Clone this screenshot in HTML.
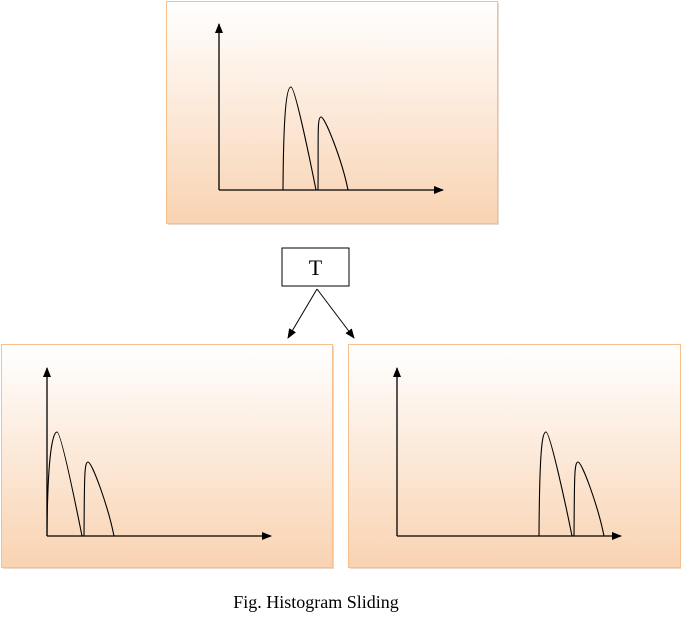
<!DOCTYPE html>
<html><head><meta charset="utf-8"><style>
html,body{margin:0;padding:0;background:#fff;}
body{width:681px;height:630px;position:relative;overflow:hidden;font-family:"Liberation Serif",serif;}
</style></head><body>
<svg id="c" width="681" height="630" xmlns="http://www.w3.org/2000/svg">
<defs>
<linearGradient id="g" x1="0" y1="0" x2="0" y2="1">
<stop offset="0" stop-color="#ffffff"/><stop offset="1" stop-color="#f9d3b2"/>
</linearGradient>
<marker id="ah" markerWidth="10" markerHeight="8" refX="9" refY="4" orient="auto" markerUnits="userSpaceOnUse">
<path d="M0,0 L10,4 L0,8 Z" fill="#000"/></marker>
</defs>
<g id="panels"></g>
<rect x="282" y="248" width="67" height="38" fill="#fff" stroke="#000" stroke-width="1"/>
<text x="315.5" y="275" font-size="22" text-anchor="middle" font-family="Liberation Serif, serif">T</text>
<line x1="317" y1="289" x2="288" y2="338" stroke="#000" stroke-width="1" marker-end="url(#ah)"/>
<line x1="317" y1="289" x2="354" y2="338" stroke="#000" stroke-width="1" marker-end="url(#ah)"/>
<text x="316" y="608" font-size="18" text-anchor="middle" font-family="Liberation Serif, serif">Fig. Histogram Sliding</text>
</svg>
<script>
const panelNames = ['original-histogram','slid-left-histogram','slid-right-histogram'];
const lobeStarts = [[283,318],[47,84],[539,574]];
const lobePeaksX = [[291,321],[57,88],[546,578]];
const lobePeaksY = [[87,117],[432,462],[432,462]];
const lobeEnds = [[316,348],[82,114],[572,604]];
const boxes=[[166,1,331,222],[1,344,331,223],[348,344,332,223]];
const axes=[[219,190,24,443],[47,536,368,271],[397,536,368,621]];
const NS='http://www.w3.org/2000/svg';
const g=document.getElementById('panels');
function mk(t,a){const e=document.createElementNS(NS,t);for(const k in a)e.setAttribute(k,a[k]);return e;}
for(let i=0;i<3;i++){
  const [bx,by,bw,bh]=boxes[i];
  const grp=mk('g',{});
  
  
  g.appendChild(grp);
  grp.appendChild(mk('rect',{x:bx+2,y:by+2,width:bw,height:bh,fill:'#d8b498',opacity:0.5}));
  const r=mk('rect',{x:bx+0.5,y:by+0.5,width:bw,height:bh,fill:'url(#g)',stroke:'#f7bf8c','stroke-width':1});
  
  
  grp.appendChild(r);
  const [ax,ay,top,right]=axes[i];
  const ya=mk('line',{x1:ax,y1:ay,x2:ax,y2:top,stroke:'#000','stroke-width':1.3,'marker-end':'url(#ah)'});
  
  
  grp.appendChild(ya);
  const xa=mk('line',{x1:ax,y1:ay,x2:right,y2:ay,stroke:'#000','stroke-width':1.3,'marker-end':'url(#ah)'});
  
  
  grp.appendChild(xa);
  for(let j=0;j<2;j++){
    const sx=lobeStarts[i][j],px=lobePeaksX[i][j],py=lobePeaksY[i][j],ex=lobeEnds[i][j],b=ay;
    const d=`M${sx},${b} C${sx+0.5},${py+20} ${px-4},${py} ${px},${py} C${px+4},${py} ${ex-6},${b-30} ${ex},${b}`;
    const p=mk('path',{d:d,fill:'none',stroke:'#000','stroke-width':1.1});
    
    
    grp.appendChild(p);
  }
}
</script>
</body></html>
